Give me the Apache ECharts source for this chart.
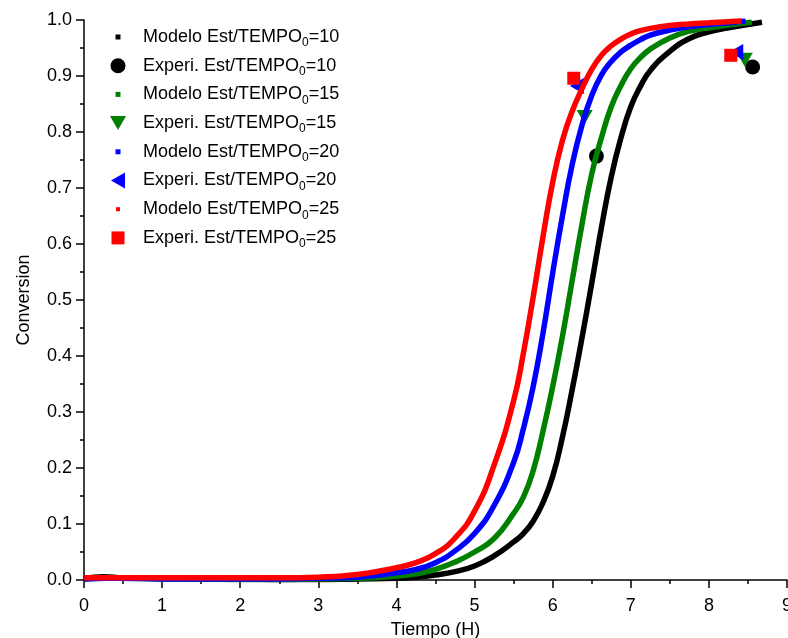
<!DOCTYPE html>
<html>
<head>
<meta charset="utf-8">
<script src="https://cdn.jsdelivr.net/npm/echarts@6/dist/echarts.min.js"></script>
<style>
  html, body { margin: 0; padding: 0; background: #fff; }
  #chart { width: 788px; height: 638px; }
</style>
</head>
<body>
<div id="chart"></div>
<script>
// Shared time grid (h) for the model curves, finer where the curves turn
const tiempo = [0, 0.25, 0.5, 1, 1.5, 2, 2.5, 3, 3.5, 4, 4.25, 4.5, 4.75, 5, 5.25, 5.5, 5.625, 5.75, 5.875, 6, 6.125, 6.25, 6.375, 6.5, 6.625, 6.75, 6.875, 7, 7.125, 7.25, 7.5, 7.75, 8, 8.25];

// Model conversion for each initial Est/TEMPO ratio
const modelo10 = [0.002, 0.006, 0.004, 0.003, 0.002, 0.002, 0.001, 0.001, 0.002, 0.003, 0.005, 0.009, 0.015, 0.025, 0.043, 0.068, 0.083, 0.105, 0.138, 0.185, 0.255, 0.34, 0.432, 0.53, 0.63, 0.72, 0.79, 0.845, 0.882, 0.91, 0.944, 0.967, 0.979, 0.986];
const modelo15 = [0.002, 0.003, 0.003, 0.002, 0.002, 0.001, 0.001, 0.002, 0.003, 0.007, 0.011, 0.019, 0.032, 0.050, 0.074, 0.119, 0.148, 0.195, 0.265, 0.345, 0.435, 0.535, 0.635, 0.725, 0.79, 0.845, 0.883, 0.913, 0.933, 0.948, 0.968, 0.98, 0.986, 0.991];
const modelo20 = [0.002, 0.003, 0.003, 0.002, 0.002, 0.002, 0.002, 0.003, 0.005, 0.013, 0.019, 0.031, 0.052, 0.083, 0.133, 0.21, 0.27, 0.345, 0.44, 0.548, 0.65, 0.742, 0.812, 0.865, 0.902, 0.926, 0.943, 0.955, 0.965, 0.973, 0.982, 0.988, 0.992, 0.995];
const modelo25 = [0.004, 0.004, 0.004, 0.004, 0.004, 0.004, 0.004, 0.005, 0.010, 0.022, 0.031, 0.047, 0.075, 0.123, 0.205, 0.32, 0.405, 0.505, 0.612, 0.71, 0.785, 0.837, 0.877, 0.912, 0.937, 0.954, 0.966, 0.975, 0.981, 0.985, 0.99, 0.993, 0.995, 0.997];

// Last computed point of each model run (10, 15, 20, 25)
const finTiempo = [8.68, 8.55, 8.47, 8.42];
const finConversion = [0.996, 0.996, 0.998, 0.998];

// Experimental points
const expTiempo10 = [6.56, 8.56];
const expConv10 = [0.757, 0.916];
const expTiempo15 = [6.41, 8.46];
const expConv15 = [0.827, 0.929];
const expTiempo20 = [6.31, 8.35];
const expConv20 = [0.882, 0.943];
const expTiempo25 = [6.27, 8.28];
const expConv25 = [0.896, 0.937];

const ratios = ['10', '15', '20', '25'];
const colores = ['#000000', '#008000', '#0000ff', '#ff0000'];

const xTicks = [0, 1, 2, 3, 4, 5, 6, 7, 8, 9];
const yTicks = [0, 0.1, 0.2, 0.3, 0.4, 0.5, 0.6, 0.7, 0.8, 0.9, 1.0];

const modelos = [modelo10, modelo15, modelo20, modelo25];
const expT = [expTiempo10, expTiempo15, expTiempo20, expTiempo25];
const expC = [expConv10, expConv15, expConv20, expConv25];

// Symbols for the experimental series
const simbolosExp = [
  'circle',
  'path://M0,0 L16,0 L8,14 Z',
  'path://M0,8 L14,0 L14,16 Z',
  'rect'
];
const tamanosExp = [15, [16, 14], [14, 16], 13];

// Legend icons drawn inside a 40x16 box (corner moves fix the box size)
const box = 'M0,0 M40,16 ';
const iconosModelo = [
  'path://' + box + 'M17.5,5.5 L22.5,5.5 L22.5,10.5 L17.5,10.5 Z',
  'path://' + box + 'M17.5,5.5 L22.5,5.5 L22.5,10.5 L17.5,10.5 Z',
  'path://' + box + 'M17.5,5.5 L22.5,5.5 L22.5,10.5 L17.5,10.5 Z',
  'path://' + box + 'M18,6 L22,6 L22,10 L18,10 Z'
];
const iconosExp = [
  'path://' + box + 'M12.5,8 A7.5,7.5 0 1 1 27.5,8 A7.5,7.5 0 1 1 12.5,8 Z',
  'path://' + box + 'M12,1 L28,1 L20,15 Z',
  'path://' + box + 'M13,8 L27,0 L27,16 Z',
  'path://' + box + 'M13.5,1.5 L26.5,1.5 L26.5,14.5 L13.5,14.5 Z'
];

const series = [];
const legendData = [];
ratios.forEach(function (r, i) {
  const datos = tiempo.map(function (t, k) { return [t, modelos[i][k]]; });
  datos.push([finTiempo[i], finConversion[i]]);
  const nombreModelo = 'Modelo Est/TEMPO0=' + r;
  const nombreExp = 'Experi. Est/TEMPO0=' + r;
  series.push({
    name: nombreModelo,
    type: 'line',
    data: datos,
    smooth: 0.5,
    showSymbol: false,
    symbol: 'none',
    lineStyle: { color: colores[i], width: 5.5 },
    itemStyle: { color: colores[i] },
    emphasis: { disabled: true }
  });
  series.push({
    name: nombreExp,
    type: 'scatter',
    data: expT[i].map(function (t, k) { return [t, expC[i][k]]; }),
    symbol: simbolosExp[i],
    symbolSize: tamanosExp[i],
    itemStyle: { color: colores[i], opacity: 1 },
    emphasis: { disabled: true }
  });
  legendData.push({ name: nombreModelo, icon: iconosModelo[i] });
  legendData.push({ name: nombreExp, icon: iconosExp[i] });
});

const fuente = 'Liberation Sans, Arial, sans-serif';

const chart = echarts.init(document.getElementById('chart'), null, { renderer: 'canvas' });
chart.setOption({
  animation: false,
  backgroundColor: '#ffffff',
  grid: { left: 84, right: 1, top: 20, bottom: 58, containLabel: false, outerBoundsMode: 'none' },
  legend: {
    orient: 'vertical',
    left: 93,
    top: 20,
    itemWidth: 40,
    itemHeight: 16,
    itemGap: 4.7,
    symbolKeepAspect: true,
    selectedMode: false,
    data: legendData,
    formatter: function (name) {
      const m = name.match(/^(.*TEMPO)0(=\d+)$/);
      return '{m|' + m[1] + '}{s|0}{m|' + m[2] + '}';
    },
    textStyle: {
      color: '#000',
      fontFamily: fuente,
      rich: {
        m: { fontSize: 18, lineHeight: 16, fontFamily: fuente, color: '#000' },
        s: { fontSize: 12, lineHeight: 12, padding: [12, 0, 0, 0], fontFamily: fuente, color: '#000' }
      }
    }
  },
  xAxis: {
    type: 'value',
    min: xTicks[0],
    max: xTicks[xTicks.length - 1],
    interval: 1,
    name: 'Tiempo (H)',
    nameLocation: 'middle',
    nameGap: 41,
    nameTextStyle: { fontSize: 18, fontFamily: fuente, color: '#000' },
    axisLine: { show: true, onZero: false, lineStyle: { color: '#000', width: 1.5 } },
    axisTick: { show: true, inside: false, length: 8, lineStyle: { color: '#000', width: 1.5 } },
    minorTick: { show: true, splitNumber: 2, length: 4, lineStyle: { color: '#000', width: 1.5 } },
    axisLabel: { fontSize: 18, fontFamily: fuente, color: '#000', margin: 17, showMaxLabel: true,
      formatter: function (v) { return String(v); } },
    splitLine: { show: false }
  },
  yAxis: {
    type: 'value',
    min: yTicks[0],
    max: yTicks[yTicks.length - 1],
    interval: 0.1,
    name: 'Conversion',
    nameLocation: 'middle',
    nameGap: 51,
    nameTextStyle: { fontSize: 18, fontFamily: fuente, color: '#000' },
    axisLine: { show: true, onZero: false, lineStyle: { color: '#000', width: 1.5 } },
    axisTick: { show: true, inside: false, length: 8, lineStyle: { color: '#000', width: 1.5 } },
    minorTick: { show: true, splitNumber: 2, length: 4, lineStyle: { color: '#000', width: 1.5 } },
    axisLabel: { fontSize: 18, fontFamily: fuente, color: '#000', margin: 12,
      formatter: function (v) { return v.toFixed(1); } },
    splitLine: { show: false }
  },
  series: series
});
</script>
</body>
</html>
